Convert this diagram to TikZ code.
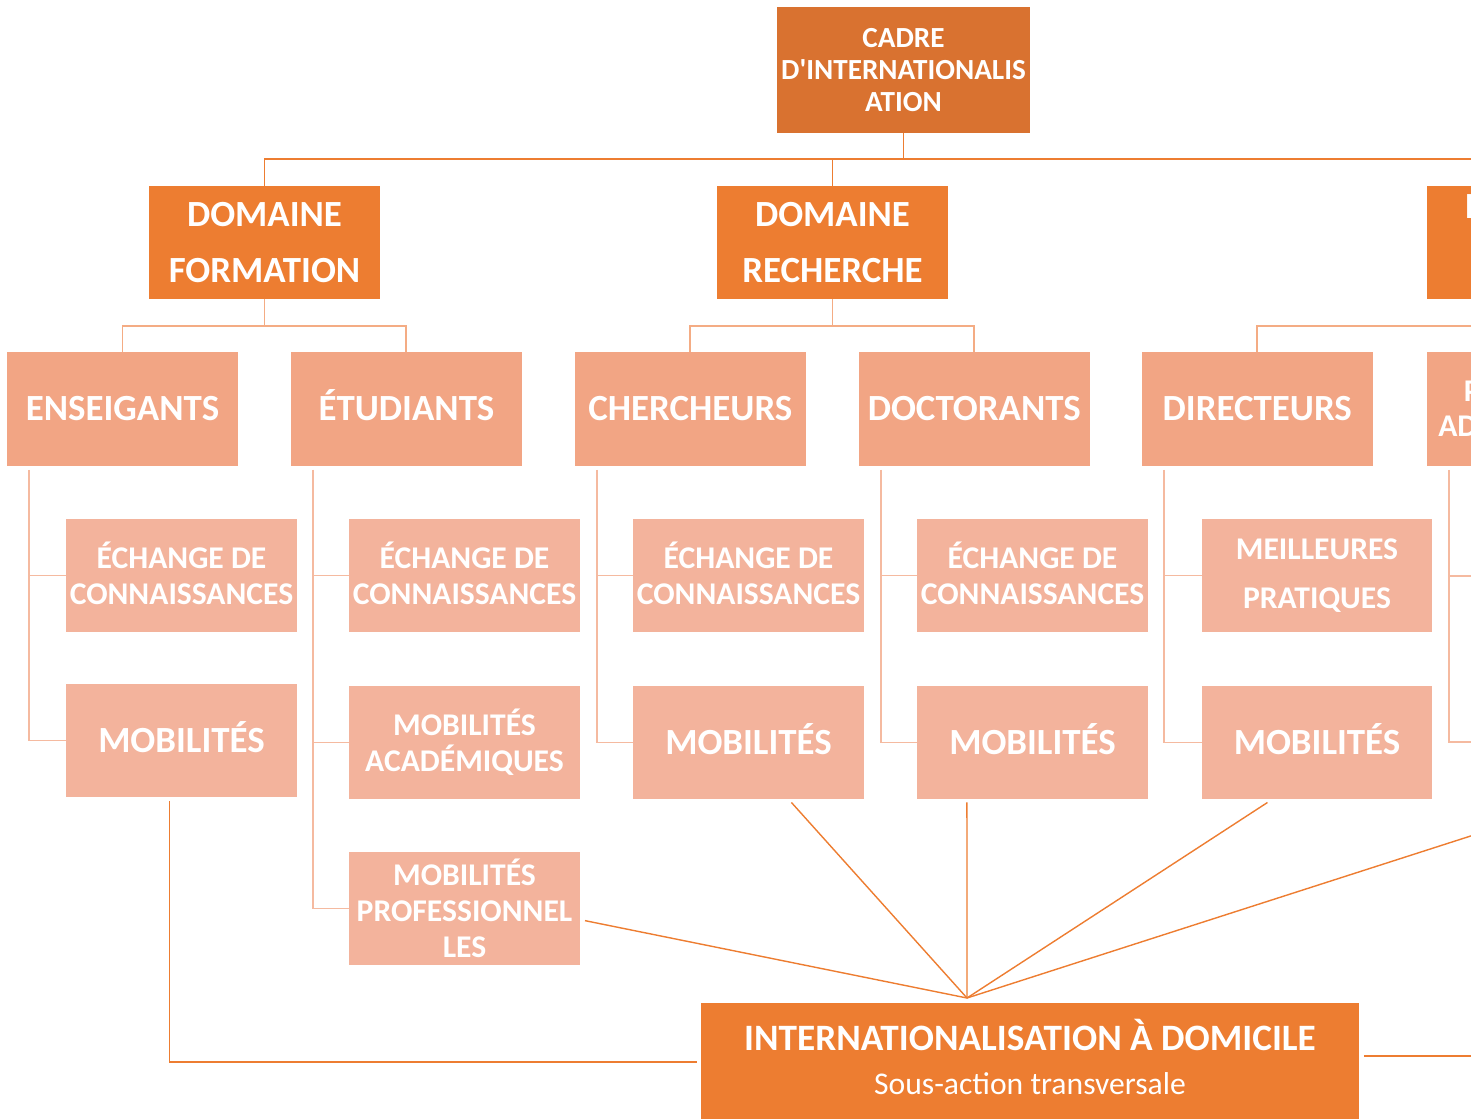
\documentclass[tikz,border=0pt]{standalone}
\usepackage{fontspec}
\setmainfont{Carlito}
\usepackage{xcolor}
\usepackage{tikz}
\usetikzlibrary{positioning,calc}
\definecolor{cadrecolor}{RGB}{217, 114, 48}
\definecolor{domainecolor}{RGB}{237, 125, 49}
\definecolor{publiccolor}{RGB}{242, 165, 132}
\definecolor{actioncolor}{RGB}{243, 179, 156}
\definecolor{linkcolor}{RGB}{244, 172, 132}
\definecolor{spinecolor}{RGB}{245, 186, 160}

\begin{document}
\begin{tikzpicture}[x=0.02cm, y=-0.02cm]
    % Define styles
    \tikzstyle{cadre} = [rectangle, minimum width=5.06cm, minimum height=2.52cm, inner sep=0pt, outer sep=0pt, text centered, align=center, fill=cadrecolor, text=white, font=\bfseries\fontsize{16.6}{18.1}\selectfont]
    \tikzstyle{domaine} = [rectangle, minimum width=4.62cm, minimum height=2.26cm, inner sep=0pt, outer sep=0pt, text centered, align=center, fill=domainecolor, text=white, font=\bfseries\fontsize{21}{32}\selectfont]
    \tikzstyle{public} = [rectangle, minimum width=4.62cm, minimum height=2.28cm, inner sep=0pt, outer sep=0pt, text centered, align=center, fill=publiccolor, text=white, font=\bfseries\fontsize{21}{24}\selectfont]
    \tikzstyle{action} = [rectangle, minimum width=4.62cm, minimum height=2.28cm, inner sep=0pt, outer sep=0pt, text centered, align=center, fill=actioncolor, text=white, font=\bfseries\fontsize{18}{20.4}\selectfont]
    \tikzstyle{echange} = [action, text depth=2.3pt]
    \tikzstyle{mobilite} = [action, font=\bfseries\fontsize{21}{24}\selectfont, text height=13.5pt, text depth=0pt]
    \tikzstyle{transversal} = [rectangle, minimum width=13.16cm, minimum height=2.32cm, inner sep=0pt, outer sep=0pt, text centered, align=center, fill=domainecolor, text=white, font=\fontsize{18}{25}\selectfont, text depth=4.5pt]
    \tikzstyle{trunk} = [domainecolor, line width=1.1pt]
    \tikzstyle{branch} = [linkcolor, line width=1.1pt]
    \tikzstyle{spine} = [spinecolor, line width=1.1pt]
    \tikzstyle{fan} = [domainecolor, line width=0.8pt]

    \useasboundingbox (0,0) rectangle (1471,1119);
    \clip (0,0) rectangle (1471,1119);

    % Top and domains
    \node [cadre] (cadre) at (903.5,70) {CADRE\\D\textquotesingle INTERNATIONALIS\\ATION};
    \node [domaine] (domFormation) at (264.5,242.5) {DOMAINE\\FORMATION};
    \node [domaine] (domRecherche) at (832.5,242.5) {DOMAINE\\RECHERCHE};
    \node [domaine] (domGestion) at (1542.5,242.5) {DOMAINE\\\strut};

    % Publics
    \node [public] (enseignants) at (122.5,409) {ENSEIGANTS};
    \node [public, right=1.06cm of enseignants, text height=13.5pt, text depth=0pt] (etudiants) {ÉTUDIANTS};
    \node [public, right=1.06cm of etudiants] (chercheurs) {CHERCHEURS};
    \node [public, right=1.06cm of chercheurs] (doctorants) {DOCTORANTS};
    \node [public, right=1.04cm of doctorants] (directeurs) {DIRECTEURS};
    \node [public, right=1.08cm of directeurs, font=\bfseries\fontsize{18}{19.8}\selectfont] (personnel) {PERSONNEL\\ADMINISTRATIF};

    % Actions
    \node [echange] (enEchange) at (181.5,575.5) {ÉCHANGE DE\\CONNAISSANCES};
    \node [mobilite] (enMobilite) at (181.5,740.5) {MOBILITÉS};
    \node [echange] (etEchange) at (464.5,575.5) {ÉCHANGE DE\\CONNAISSANCES};
    \node [action] (etAcademique) at (464.5,742.5) {MOBILITÉS\\ACADÉMIQUES};
    \node [action] (etProfession) at (464.5,908.5) {MOBILITÉS\\PROFESSIONNEL\\LES};
    \node [echange] (chEchange) at (748.5,575.5) {ÉCHANGE DE\\CONNAISSANCES};
    \node [mobilite] (chMobilite) at (748.5,742.5) {MOBILITÉS};
    \node [echange] (doEchange) at (1032.5,575.5) {ÉCHANGE DE\\CONNAISSANCES};
    \node [mobilite] (doMobilite) at (1032.5,742.5) {MOBILITÉS};
    \node [action, font=\bfseries\fontsize{18}{27.8}\selectfont] (diPratiques) at (1317,575.5) {MEILLEURES\\PRATIQUES};
    \node [mobilite] (diMobilite) at (1317,742.5) {MOBILITÉS};

    % Transversal action
    \node [transversal] (domicile) at (1030,1061) {{\bfseries\fontsize{21.2}{25}\selectfont INTERNATIONALISATION À DOMICILE}\\Sous-action transversale};

    % Top level bus
    \coordinate (busEnd) at (1480,159);
    \draw [trunk] (domFormation.north) |- (busEnd);
    \draw [trunk] (cadre.south) -- (cadre.south |- busEnd);
    \draw [trunk] (domRecherche.north) -- (domRecherche.north |- busEnd);
    \draw [trunk] (domGestion.north) -- (domGestion.north |- busEnd);

    % Domain to publics
    \coordinate (formBus) at ($(domFormation.south)+(0,27)$);
    \coordinate (rechBus) at ($(domRecherche.south)+(0,27)$);
    \coordinate (gestBus) at ($(domGestion.south)+(0,27)$);
    \draw [branch] (domFormation.south) -- (formBus);
    \draw [branch] (enseignants.north) |- (formBus) -| (etudiants.north);
    \draw [branch] (domRecherche.south) -- (rechBus);
    \draw [branch] (chercheurs.north) |- (rechBus) -| (doctorants.north);
    \draw [branch] (directeurs.north) |- (gestBus) -| (personnel.north);

    % Publics to actions
    \draw [spine] ($(enseignants.south west)+(22,4)$) |- (enEchange.west);
    \draw [spine] ($(enseignants.south west)+(22,4)$) |- (enMobilite.west);
    \draw [spine] ($(etudiants.south west)+(22,4)$) |- (etEchange.west);
    \draw [spine] ($(etudiants.south west)+(22,4)$) |- (etAcademique.west);
    \draw [spine] ($(etudiants.south west)+(22,4)$) |- (etProfession.west);
    \draw [spine] ($(chercheurs.south west)+(22,4)$) |- (chEchange.west);
    \draw [spine] ($(chercheurs.south west)+(22,4)$) |- (chMobilite.west);
    \draw [spine] ($(doctorants.south west)+(22,4)$) |- (doEchange.west);
    \draw [spine] ($(doctorants.south west)+(22,4)$) |- (doMobilite.west);
    \draw [spine] ($(directeurs.south west)+(22,4)$) |- (diPratiques.west);
    \draw [spine] ($(directeurs.south west)+(22,4)$) |- (diMobilite.west);
    \coordinate (peEchange) at (1480,576);
    \coordinate (peMobilite) at (1480,742);
    \draw [spine] ($(personnel.south west)+(22,4)$) |- (peEchange);
    \draw [spine] ($(personnel.south west)+(22,4)$) |- (peMobilite);

    % Links to transversal action
    \coordinate (hub) at (967,998);
    \coordinate (fanEnd) at (1480,833);
    \draw [fan] ($(etProfession.-6)+(5,0)$) -- (hub);
    \draw [fan] ($(chMobilite.-53)+(0,3)$) -- (hub);
    \draw [fan] ($(doMobilite.-139)+(0,3)$) -- (hub);
    \draw [fan] ($(diMobilite.-131)+(0,3)$) -- (hub);
    \draw [fan] (fanEnd) -- (hub);
    \draw [trunk] ($(enMobilite.south)+(-12,4)$) |- ($(domicile.west)+(-4,1)$);
    \draw [trunk] ($(domicile.east)+(5,-5)$) -- ++(200,0);
\end{tikzpicture}
\end{document}
